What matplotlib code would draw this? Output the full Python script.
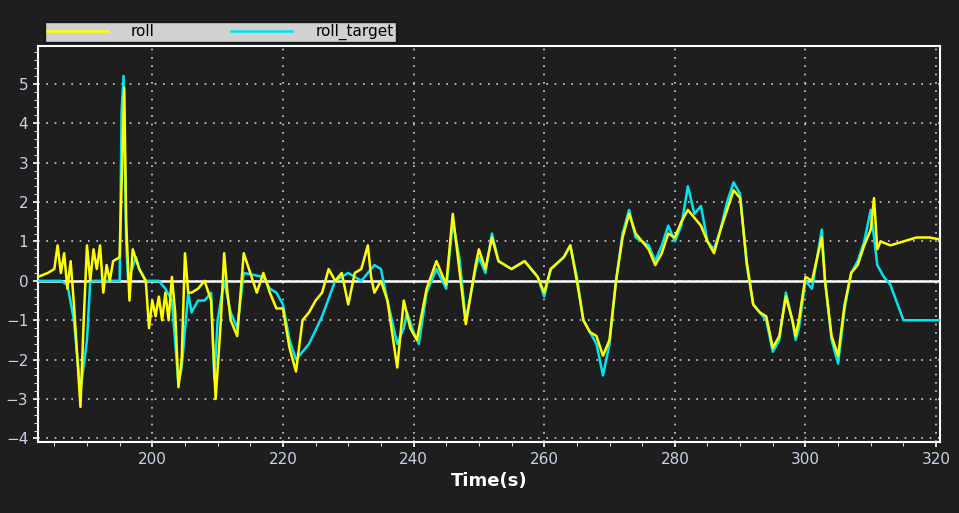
import numpy as np
import matplotlib.pyplot as plt
from matplotlib.ticker import MultipleLocator

# roll_target (cyan)
target_t = [182.5, 186, 187, 188, 189, 190, 190.5, 195, 195.3, 195.6, 196, 196.3, 197.5, 198, 199,
            201, 202, 203, 204, 204.5, 205.5, 206, 207, 208, 209, 209.5, 210, 211, 212, 213, 214,
            217, 218, 219, 220, 221, 222, 224, 226, 228, 230, 232, 234, 235, 236, 237.5, 238.5, 239,
            240, 240.8, 242, 243.5, 245, 246, 247, 248, 249.5, 250, 251, 252, 253, 255, 257, 259,
            260, 261, 263, 264, 265, 266, 267, 268, 269, 270, 271, 272, 273, 274, 275, 276, 277, 278,
            279, 280, 281, 282, 283, 284, 285, 286, 287, 288, 289, 290, 291, 292, 293, 294, 295, 296,
            297, 298, 298.5, 299, 300, 301, 302.5, 303, 304, 305, 306, 307, 308, 309, 310, 311, 312,
            313, 315, 320.6]
target_v = [0, 0, -0.1, -1.0, -2.8, -1.5, 0, 0, 4.3, 5.2, 1.0, 0, 0.6, 0.3, 0,
            0, -0.2, -0.5, -2.6, -2.2, -0.3, -0.8, -0.5, -0.5, -0.3, -2.5, -1.0, 0, -0.8, -1.2, 0.2,
            0.1, -0.2, -0.3, -0.6, -1.5, -2.0, -1.6, -0.9, 0.0, 0.2, 0.0, 0.4, 0.3, -0.5, -1.6, -1.2, -0.8,
            -1.3, -1.6, -0.3, 0.3, -0.2, 1.5, 0.6, -1.0, 0.3, 0.6, 0.2, 1.2, 0.5, 0.3, 0.5, 0.1,
            -0.4, 0.3, 0.6, 0.9, 0.1, -1.0, -1.3, -1.6, -2.4, -1.6, 0, 1.2, 1.8, 1.1, 1.0, 0.9, 0.5, 0.9,
            1.4, 1.0, 1.4, 2.4, 1.7, 1.9, 1.0, 0.8, 1.3, 2.0, 2.5, 2.2, 0.4, -0.6, -0.8, -1.0, -1.8, -1.5,
            -0.3, -1.0, -1.5, -1.2, 0, -0.2, 1.3, 0, -1.5, -2.1, -0.7, 0.2, 0.5, 1.0, 1.8, 0.4, 0.1,
            -0.1, -1.0, -1.0]

# roll (yellow)
roll_t = [182.5, 184, 185, 185.5, 186, 186.5, 187, 187.5, 188, 189, 189.5, 190, 190.5, 191, 191.5, 192,
          192.5, 193, 193.5, 194, 195, 195.3, 195.7, 196, 196.5, 197, 198, 199, 199.5, 200, 200.5, 201,
          201.5, 202, 202.5, 203, 203.5, 204, 204.5, 205, 205.5, 206, 207, 208, 209, 209.7, 210.5, 211,
          211.5, 212, 213, 214, 215, 216, 217, 218, 219, 220, 221, 222, 223, 224, 225, 226, 227, 228,
          229, 230, 231, 232, 233, 233.5, 234, 235, 236, 237.5, 238.5, 239.5, 240.5, 242, 243.5, 245,
          246, 247, 248, 249.5, 250, 251, 252, 253, 255, 257, 259, 260, 261, 263, 264, 265, 266, 267,
          268, 269, 270, 271, 272, 273, 274, 275, 276, 277, 278, 279, 280, 281, 282, 283, 284, 285,
          286, 287, 288, 289, 290, 291, 292, 293, 294, 295, 296, 297, 298, 298.5, 299, 300, 301, 302.5,
          303, 304, 305, 306, 307, 308, 309, 310, 310.5, 311, 311.5, 313, 315, 317, 319, 320.6]
roll_v = [0.1, 0.2, 0.3, 0.9, 0.2, 0.7, -0.2, 0.5, -0.6, -3.2, -1.0, 0.9, 0.0, 0.8, 0.3, 0.9,
          -0.3, 0.4, 0.0, 0.5, 0.6, 2.4, 4.9, 1.5, -0.5, 0.8, 0.3, 0.0, -1.2, -0.5, -0.9, -0.4,
          -1.0, -0.3, -1.0, 0.1, -0.8, -2.7, -2.0, 0.7, -0.3, -0.3, -0.2, 0.0, -0.5, -3.0, -1.0, 0.7,
          -0.3, -1.0, -1.4, 0.7, 0.2, -0.3, 0.2, -0.3, -0.7, -0.7, -1.7, -2.3, -1.0, -0.8, -0.5, -0.3,
          0.3, 0.0, 0.2, -0.6, 0.2, 0.3, 0.9, 0.1, -0.3, 0.0, -0.5, -2.2, -0.5, -1.2, -1.5, -0.2,
          0.5, -0.1, 1.7, 0.3, -1.1, 0.4, 0.8, 0.3, 1.1, 0.5, 0.3, 0.5, 0.1, -0.3, 0.3, 0.6, 0.9,
          0.0, -1.0, -1.3, -1.4, -1.9, -1.5, 0, 1.1, 1.7, 1.2, 1.0, 0.8, 0.4, 0.7, 1.2, 1.1, 1.5,
          1.8, 1.6, 1.4, 1.0, 0.7, 1.3, 1.8, 2.3, 2.1, 0.5, -0.6, -0.8, -0.9, -1.7, -1.4, -0.4, -1.0,
          -1.4, -1.0, 0.1, 0.0, 1.1, 0.0, -1.4, -1.9, -0.6, 0.2, 0.4, 0.9, 1.3, 2.1, 0.8, 1.0,
          0.9, 1.0, 1.1, 1.1, 1.05]

bg = "#1e1e1e"
fig = plt.figure(figsize=(9.59, 5.13), dpi=100, facecolor=bg)
ax = fig.add_axes([38 / 959, 1 - 442 / 513, 902 / 959, 396 / 513], facecolor=bg)

ax.plot(target_t, target_v, color="#00e5f0", lw=1.8, label="roll_target", zorder=3)
ax.plot(roll_t, roll_v, color="#ffff00", lw=1.8, label="roll", zorder=4)
ax.axhline(0, color="white", lw=1.8, zorder=2)

ax.set_xlim(182.5, 320.6)
ax.set_ylim(-4.09, 5.96)
ax.xaxis.set_major_locator(MultipleLocator(20))
ax.xaxis.set_minor_locator(MultipleLocator(5))
ax.yaxis.set_major_locator(MultipleLocator(1))
ax.yaxis.set_minor_locator(MultipleLocator(0.2))
ax.grid(True, which="major", color="#d0d0d0", linestyle=(0, (1, 4)), lw=1.2)
for s in ax.spines.values():
    s.set_color("white")
    s.set_linewidth(1.5)
ax.tick_params(colors="white", labelcolor="#c8d2e6", labelsize=11, width=1.2)
ax.tick_params(which="minor", colors="white", length=3)
ax.set_xlabel("Time(s)", color="white", fontsize=13, fontweight="bold")

h, l = ax.get_legend_handles_labels()
leg = fig.legend(h[::-1], l[::-1], ncol=2, loc="upper left", bbox_to_anchor=(37 / 959, 1 - 14 / 513),
                 frameon=True, fancybox=False, fontsize=11, borderpad=0.15, handlelength=4,
                 columnspacing=5, handletextpad=1.5)
leg.get_frame().set_facecolor("white")
leg.get_frame().set_edgecolor("black")

fig.savefig("out.png", dpi=100, facecolor=bg)
